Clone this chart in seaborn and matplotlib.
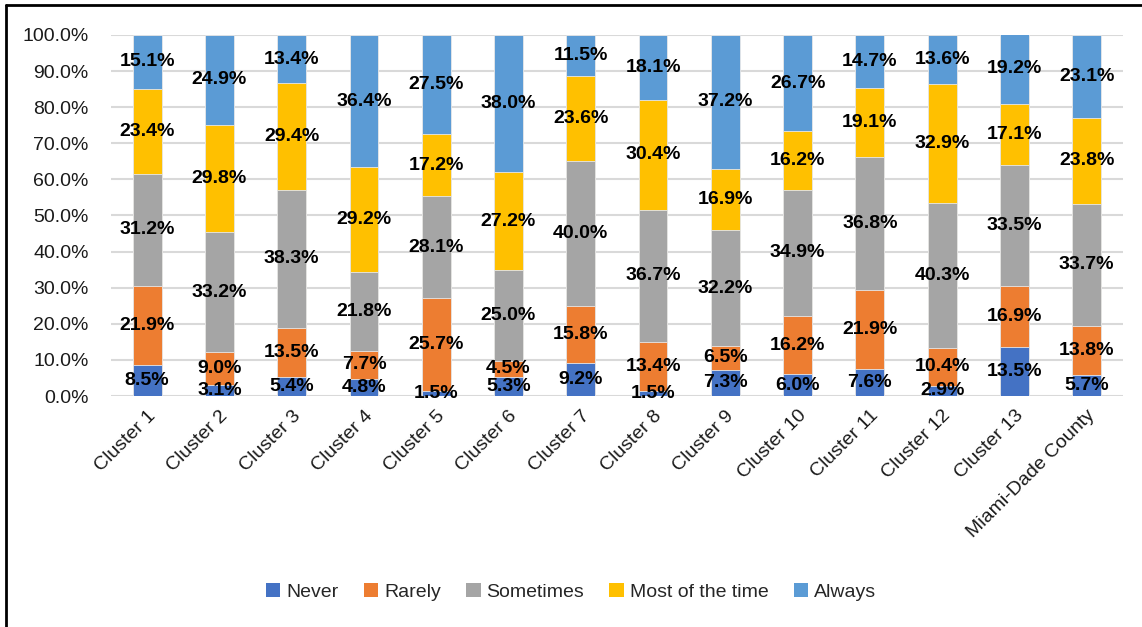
import numpy as np
import pandas as pd
import matplotlib
matplotlib.use("Agg")
import matplotlib.pyplot as plt
import seaborn as sns
from matplotlib.lines import Line2D
from matplotlib.patches import Patch

categories = ["Cluster 1", "Cluster 2", "Cluster 3", "Cluster 4", "Cluster 5",
              "Cluster 6", "Cluster 7", "Cluster 8", "Cluster 9", "Cluster 10",
              "Cluster 11", "Cluster 12", "Cluster 13", "Miami-Dade County"]
series = ["Never", "Rarely", "Sometimes", "Most of the time", "Always"]

never = [8.5, 3.1, 5.4, 4.8, 1.5, 5.3, 9.2, 1.5, 7.3, 6.0, 7.6, 2.9, 13.5, 5.7]
rarely = [21.9, 9.0, 13.5, 7.7, 25.7, 4.5, 15.8, 13.4, 6.5, 16.2, 21.9, 10.4, 16.9, 13.8]
sometimes = [31.2, 33.2, 38.3, 21.8, 28.1, 25.0, 40.0, 36.7, 32.2, 34.9, 36.8, 40.3, 33.5, 33.7]
most = [23.4, 29.8, 29.4, 29.2, 17.2, 27.2, 23.6, 30.4, 16.9, 16.2, 19.1, 32.9, 17.1, 23.8]
always = [15.1, 24.9, 13.4, 36.4, 27.5, 38.0, 11.5, 18.1, 37.2, 26.7, 14.7, 13.6, 19.2, 23.1]

colors = ["#4472C4", "#ED7D31", "#A5A5A5", "#FFC000", "#5B9BD5"]

sns.set_theme(style="white")
plt.rcParams["font.family"] = ["Liberation Sans", "DejaVu Sans"]

vals = np.array([never, rarely, sometimes, most, always])
tops = vals.cumsum(axis=0)
bottoms = tops - vals

fig = plt.figure(figsize=(11.42, 6.27), dpi=100)
ax = fig.add_axes([0.0972, 0.3684, 0.886, 0.5758])

# draw cumulative bars from tallest down so each layer shows its own segment
for i in range(len(series) - 1, -1, -1):
    df = pd.DataFrame({"cat": categories, "top": tops[i] / 100})
    sns.barplot(data=df, x="cat", y="top", color=colors[i], width=0.4,
                saturation=1, ax=ax, edgecolor="#e8e8e8", linewidth=0.6, zorder=2)

label_font = ["Liberation Sans Narrow", "Liberation Sans", "DejaVu Sans"]
for i in range(len(series)):
    for j in range(len(categories)):
        ax.text(j, (bottoms[i, j] + vals[i, j] / 2) / 100, f"{vals[i, j]:.1f}%",
                ha="center", va="center", fontsize=14, fontweight="bold",
                family=label_font, color="black", zorder=5)

ax.set_ylim(0, 1)
ax.set_xlim(-0.5, len(categories) - 0.5)
ax.set_yticks(np.arange(0, 1.01, 0.1))
ax.set_yticklabels([f"{t:.1f}%" for t in np.arange(0, 100.1, 10)], fontsize=14,
                   color="#1a1a1a")
ax.set_xticks(range(len(categories)))
ax.set_xticklabels(categories, rotation=45, ha="right", rotation_mode="anchor",
                   fontsize=14, color="#1a1a1a")
ax.tick_params(axis="x", length=0, pad=8)
ax.tick_params(axis="y", length=0, pad=16)
ax.set_xlabel("")
ax.set_ylabel("")
ax.yaxis.grid(True, color="#d9d9d9", linewidth=1.5, zorder=0)
ax.set_axisbelow(True)
for s in ax.spines.values():
    s.set_visible(False)

handles = [Patch(facecolor=c, edgecolor="none") for c in colors]
fig.legend(handles, series, loc="center", bbox_to_anchor=(0.5, 0.056), ncol=5,
           frameon=False, fontsize=14, handlelength=0.75, handleheight=0.75,
           handletextpad=0.3, columnspacing=1.3)

# outer frame (top and left visible in the cropped export)
fig.add_artist(Line2D([6 / 1142, 6 / 1142], [0, 1 - 5 / 627], transform=fig.transFigure,
                      color="black", linewidth=2))
fig.add_artist(Line2D([6 / 1142, 1], [1 - 5 / 627, 1 - 5 / 627], transform=fig.transFigure,
                      color="black", linewidth=2))

fig.savefig("out.png", dpi=100)
